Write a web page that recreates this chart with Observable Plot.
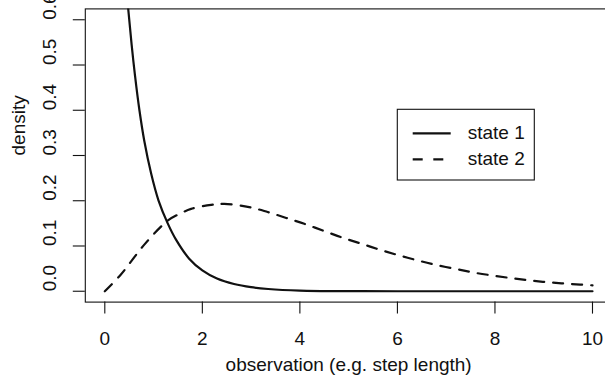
<!DOCTYPE html>
<html>
<head>
<meta charset="utf-8">
<script src="https://cdn.jsdelivr.net/npm/d3@7"></script>
<script src="https://cdn.jsdelivr.net/npm/@observablehq/plot@0.6"></script>
<style>
  html, body { margin: 0; padding: 0; background: #fff; }
  #wrap { width: 605px; height: 382px; overflow: hidden; position: relative; }
  #wrap svg { max-width: none !important; width: 612px !important; height: 382px !important; display: block; }
</style>
</head>
<body>
<div id="wrap"></div>
<script>
// ---- data ----
const state1X = [0.40, 0.48, 0.55, 0.62, 0.71, 0.81, 0.95, 1.10, 1.29, 1.46, 1.73, 2.00, 2.30, 2.65, 3.00, 3.35, 4.00, 5.00, 6.00, 7.00, 8.00, 9.00, 10.00];
const state1Y = [0.72, 0.624, 0.545, 0.476, 0.40, 0.332, 0.260, 0.201, 0.150, 0.114, 0.072, 0.046, 0.028, 0.016, 0.009, 0.005, 0.0015, 0.0002, 0, 0, 0, 0, 0];
const state2X = [0, 0.33, 0.81, 1.29, 1.55, 1.77, 2.18, 2.45, 2.96, 3.34, 3.72, 4.09, 4.50, 4.88, 5.26, 5.63, 6.01, 6.42, 6.80, 7.21, 7.58, 8.00, 8.40, 8.78, 9.19, 9.57, 10.00];
const state2Y = [0, 0.037, 0.103, 0.156, 0.172, 0.182, 0.191, 0.193, 0.186, 0.175, 0.162, 0.149, 0.133, 0.118, 0.105, 0.092, 0.080, 0.068, 0.058, 0.049, 0.041, 0.034, 0.028, 0.023, 0.019, 0.016, 0.013];
const xTicks = [0, 2, 4, 6, 8, 10];
const yTicks = [0.0, 0.1, 0.2, 0.3, 0.4, 0.5, 0.6];
const seriesNames = ["state 1", "state 2"];
const xTitle = "observation (e.g. step length)";
const yTitle = "density";

const s1 = state1X.map((x, i) => ({x, y: state1Y[i]}));
const s2 = state2X.map((x, i) => ({x, y: state2Y[i]}));

const FONT = "'Liberation Sans', Arial, Helvetica, sans-serif";
const FS = 19;
const ink = "#111";

const chart = Plot.plot({
  width: 612,
  height: 382,
  marginLeft: 84.8,
  marginRight: 0.5,
  marginTop: 8.4,
  marginBottom: 80.4,
  style: {fontFamily: FONT, fontSize: FS + "px", color: ink, background: "#fff", maxWidth: "none", overflow: "hidden"},
  x: {domain: [-0.4, 10.4]},
  y: {domain: [-0.024, 0.624]},
  marks: [
    Plot.line(s1, {x: "x", y: "y", curve: "catmull-rom", stroke: ink, strokeWidth: 2.2, clip: true}),
    Plot.line(s2, {x: "x", y: "y", curve: "catmull-rom", stroke: ink, strokeWidth: 2.2, strokeDasharray: "10,9", clip: true}),
    Plot.frame({stroke: ink, strokeWidth: 1.1}),
    Plot.axisX({ticks: xTicks, tickSize: 12, tickPadding: 17, label: null, stroke: ink, strokeWidth: 1.1, fill: ink}),
    Plot.axisY({ticks: yTicks, tickSize: 12, tickFormat: () => "", label: null, stroke: ink, strokeWidth: 1.1}),
    Plot.text(yTicks, {y: d => d, text: d => d.toFixed(1), frameAnchor: "left", dx: -35.5, rotate: -90, fill: ink}),
    Plot.text([xTitle], {text: d => d, frameAnchor: "bottom", dy: 69, fill: ink}),
    Plot.text([yTitle], {text: d => d, frameAnchor: "left", dx: -66.8, rotate: -90, fill: ink})
  ]
});
document.getElementById("wrap").appendChild(chart);

// ---- legend ----
const svg = d3.select(chart);
const lg = svg.append("g").attr("font-family", FONT).attr("font-size", FS).attr("text-anchor", "start");
lg.append("rect").attr("x", 397.3).attr("y", 109.3).attr("width", 137).attr("height", 70.7)
  .attr("fill", "#fff").attr("stroke", ink).attr("stroke-width", 1.1);
const rows = [{name: seriesNames[0], dash: null, y: 133.3}, {name: seriesNames[1], dash: "10,10.6", y: 159.3}];
rows.forEach(r => {
  lg.append("line").attr("x1", 412.7).attr("x2", 450.7).attr("y1", r.y).attr("y2", r.y)
    .attr("stroke", ink).attr("stroke-width", 2.2).attr("stroke-dasharray", r.dash);
  lg.append("text").attr("x", 467.7).attr("y", r.y).attr("dy", "0.32em").attr("fill", ink)
    .attr("text-anchor", "start").text(r.name);
});
</script>
</body>
</html>
